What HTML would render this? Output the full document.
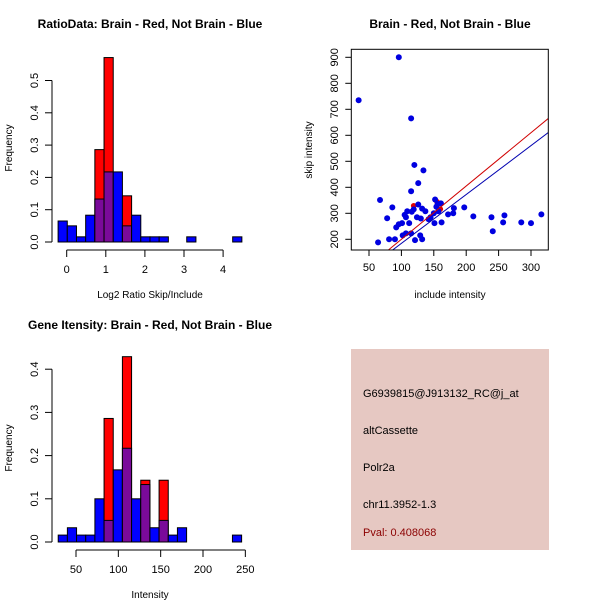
<!DOCTYPE html>
<html><head><meta charset="utf-8"><style>
body{margin:0;background:#fff}
svg{display:block;font-family:"Liberation Sans",sans-serif}
</style></head><body>
<svg id="c" width="600" height="600" xmlns="http://www.w3.org/2000/svg">
<rect width="600" height="600" fill="#fff"/>
<g id="p1"></g>
<g id="p2"></g>
<g id="p3"></g>
<g id="p4">
<rect x="351" y="349" width="198" height="201" fill="#e6c8c2"/>
<text x="363" y="397" font-size="11">G6939815@J913132_RC@j_at</text>
<text x="363" y="434" font-size="11">altCassette</text>
<text x="363" y="471" font-size="11">Polr2a</text>
<text x="363" y="508" font-size="11">chr11.3952-1.3</text>
<text x="363" y="536" font-size="11" fill="#8b0000">Pval: 0.408068</text>
</g>
</svg>
<script>
// Plot 1 data
const ratioBinStart = -0.22, ratioBinWidth = 0.235;
const ratioBlue = [0.065,0.05,0.016,0.083,0.133,0.217,0.217,0.05,0.083,0.016,0.016,0.016,0,0,0.016,0,0,0,0,0.016];
const ratioRed  = [0,0,0,0,0.286,0.571,0,0.143,0,0,0,0,0,0,0,0,0,0,0,0];
const ratioXTicks = [0,1,2,3,4];
const ratioYTicks = [0,0.1,0.2,0.3,0.4,0.5];
// Plot 3 data
const intBinStart = 29, intBinWidth = 10.83;
const intBlue = [0.016,0.033,0.016,0.016,0.1,0.05,0.167,0.217,0.1,0.133,0.033,0.05,0.016,0.033,0,0,0,0,0,0.016];
const intRed  = [0,0,0,0,0,0.286,0,0.429,0,0.143,0,0.143,0,0,0,0,0,0,0,0];
const intXTicks = [50,100,150,200,250];
const intYTicks = [0,0.1,0.2,0.3,0.4];
// Plot 2 data
const blueX = [96,34,115,120,134,126,115,67,152,161,126,156,86,154,197,181,119,132,109,137,116,105,172,180,157,150,316,259,107,211,239,124,145,130,78,142,112,101,96,151,162,257,285,300,92,241,107,102,129,121,132,81,90,64,115];
const blueY = [900,735,665,486,465,416,385,351,353,338,334,336,323,325,323,320,315,318,308,308,306,294,296,300,308,300,296,292,285,288,285,285,285,280,281,277,262,262,258,262,265,265,265,262,246,231,223,215,215,197,200,200,200,188,223];
const redX = [119,155,160];
const redY = [329,344,316];
const redLine = [2.05,-5];
const blueLine = [1.88,-3.6];
const scX = [50,100,150,200,250,300];
const scY = [200,300,400,500,600,700,800,900];

const NS="http://www.w3.org/2000/svg";
function mk(parent,tag,attrs,txt){const e=document.createElementNS(NS,tag);for(const k in attrs)e.setAttribute(k,attrs[k]);if(txt!==undefined)e.textContent=txt;parent.appendChild(e);return e;}

function hist(g,o){
  const sx=v=>o.x0px+(v-o.x0)*o.kx, sy=v=>o.y0px-v*o.ky;
  const tt=mk(g,'text',{x:o.titleX,y:o.titleY,'font-size':12,'font-weight':'bold','text-anchor':'middle'},o.title);
  
  
  for(let i=0;i<o.blue.length;i++){
    const l=sx(o.start+i*o.w), r=sx(o.start+(i+1)*o.w);
    const b=o.blue[i], rd=o.red[i];
    if(rd>0){const e=mk(g,'rect',{x:l,y:sy(rd),width:r-l,height:sy(0)-sy(rd),fill:'#ff0000',stroke:'#000','stroke-width':1});
      
      }
    if(b>0&&!(rd>0&&rd>=b)){const e=mk(g,'rect',{x:l,y:sy(b),width:r-l,height:sy(0)-sy(b),fill:'#0000ff',stroke:'#000','stroke-width':1});
      
      }
    if(b>0&&rd>0){const m=Math.min(b,rd);const e=mk(g,'rect',{x:l,y:sy(m),width:r-l,height:sy(0)-sy(m),fill:'#7a0a9a',stroke:'#000','stroke-width':1});
      
      }
  }
  const ya=mk(g,'g',{});
  
  
  mk(ya,'line',{x1:52,x2:52,y1:sy(o.yt[0]),y2:sy(o.yt[o.yt.length-1]),stroke:'#000'});
  o.yt.forEach(t=>{const y=sy(t);mk(ya,'line',{x1:45,x2:52,y1:y,y2:y,stroke:'#000'});
    mk(ya,'text',{x:38,y:y,'font-size':11,'text-anchor':'middle',transform:`rotate(-90 38 ${y})`},t.toFixed(1));});
  const yl=mk(g,'text',{x:12,y:o.yLabY,'font-size':10,'text-anchor':'middle',transform:`rotate(-90 12 ${o.yLabY})`},'Frequency');
  
  
  const xa=mk(g,'g',{});
  
  
  const ay=o.y0px+8;
  mk(xa,'line',{x1:sx(o.xt[0]),x2:sx(o.xt[o.xt.length-1]),y1:ay,y2:ay,stroke:'#000'});
  o.xt.forEach(t=>{const x=sx(t);mk(xa,'line',{x1:x,x2:x,y1:ay,y2:ay+7,stroke:'#000'});
    mk(xa,'text',{x:x,y:ay+23,'font-size':11,'text-anchor':'middle'},String(t));});
  const xl=mk(g,'text',{x:150,y:o.y0px+56,'font-size':10,'text-anchor':'middle'},o.xlab);
  
  
}
hist(document.getElementById('p1'),{title:'RatioData: Brain - Red, Not Brain - Blue',titleX:150,titleY:28,x0:0,x0px:66.7,kx:39.1,y0px:242,ky:323,start:ratioBinStart,w:ratioBinWidth,blue:ratioBlue,red:ratioRed,xt:ratioXTicks,yt:ratioYTicks,xlab:'Log2 Ratio Skip/Include',yLabY:148});
hist(document.getElementById('p3'),{title:'Gene Itensity: Brain - Red, Not Brain - Blue',titleX:150,titleY:329,x0:50,x0px:76,kx:0.8467,y0px:542,ky:432,start:intBinStart,w:intBinWidth,blue:intBlue,red:intRed,xt:intXTicks,yt:intYTicks,xlab:'Intensity',yLabY:448});

(function(){
  const g=document.getElementById('p2');
  const sx=v=>369+(v-50)*0.648, sy=v=>239.3-(v-200)*0.26;
  const L=351.3,R=548.3,T=49.3,B=250;
  const t=mk(g,'text',{x:450,y:28,'font-size':12,'font-weight':'bold','text-anchor':'middle'},'Brain - Red, Not Brain - Blue');
  
  
  const cp=mk(g,'clipPath',{id:'clip2'});mk(cp,'rect',{x:L,y:T,width:R-L,height:B-T});
  const pts=mk(g,'g',{'clip-path':'url(#clip2)'});
  
  
  for(let i=0;i<redX.length;i++){const c=mk(pts,'circle',{cx:sx(redX[i]),cy:sy(redY[i]),r:2.8,fill:'#e00000'});
    
    }
  for(let i=0;i<blueX.length;i++){const c=mk(pts,'circle',{cx:sx(blueX[i]),cy:sy(blueY[i]),r:3,fill:'#0000e0'});
    
    }
  [[redLine,'#d00000','red-fit-line'],[blueLine,'#0000b0','blue-fit-line']].forEach(([ln,col,nm])=>{
    const x1=0,x2=400;const l=mk(pts,'line',{x1:sx(x1),y1:sy(ln[0]*x1+ln[1]),x2:sx(x2),y2:sy(ln[0]*x2+ln[1]),stroke:col,'stroke-width':1});
    
    });
  const box=mk(g,'rect',{x:L,y:T,width:R-L,height:B-T,fill:'none',stroke:'#000'});
  
  
  const xa=mk(g,'g',{});
  
  
  scX.forEach(v=>{const x=sx(v);mk(xa,'line',{x1:x,x2:x,y1:B,y2:B+6,stroke:'#000'});mk(xa,'text',{x:x,y:B+21,'font-size':11,'text-anchor':'middle'},String(v));});
  const ya=mk(g,'g',{});
  
  
  scY.forEach(v=>{const y=sy(v);mk(ya,'line',{x1:L-6,x2:L,y1:y,y2:y,stroke:'#000'});mk(ya,'text',{x:338,y:y,'font-size':11,'text-anchor':'middle',transform:`rotate(-90 338 ${y})`},String(v));});
  const xl=mk(g,'text',{x:450,y:298,'font-size':10,'text-anchor':'middle'},'include intensity');
  
  
  const yl=mk(g,'text',{x:312,y:150,'font-size':10,'text-anchor':'middle',transform:'rotate(-90 312 150)'},'skip intensity');
  
  
})();
</script>
</body></html>
